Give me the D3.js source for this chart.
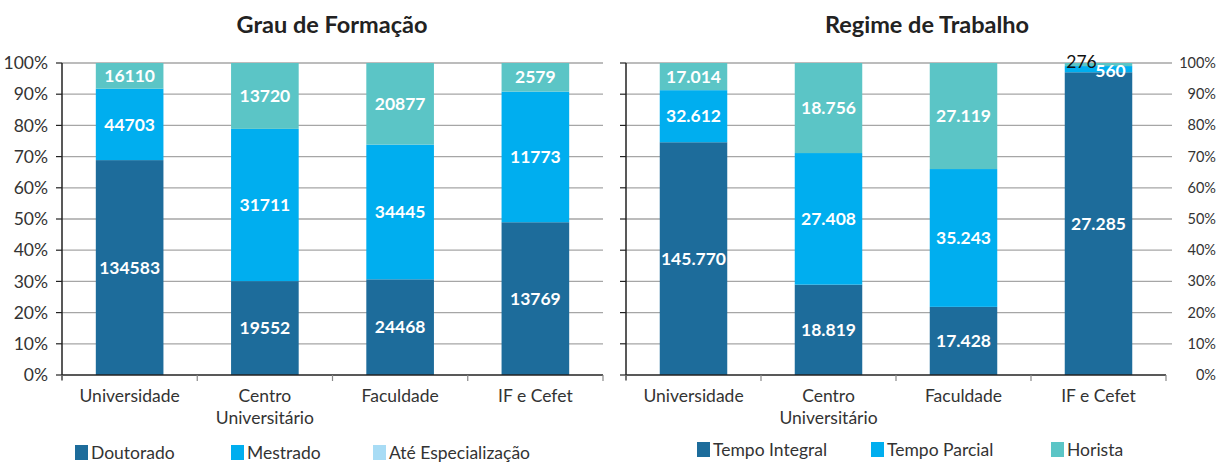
<!DOCTYPE html>
<html><head><meta charset="utf-8">
<script src="https://cdn.jsdelivr.net/npm/d3@7"></script>
<style>
body{margin:0;background:#fff;}
svg{font-family:Lato,"Noto Sans",sans-serif;}
</style></head>
<body><svg id="c" width="1218" height="462"></svg>
<script>
const categories = ["Universidade", "Centro\nUniversitário", "Faculdade", "IF e Cefet"];
const doutorado = [134583, 19552, 24468, 13769];
const mestrado = [44703, 31711, 34445, 11773];
const especializacao = [16110, 13720, 20877, 2579];
const tempoIntegral = [145770, 18819, 17428, 27285];
const tempoParcial = [32612, 27408, 35243, 560];
const horista = [17014, 18756, 27119, 276];
const yTicks = [0,10,20,30,40,50,60,70,80,90,100];

const C_DARK = "#1d6c9b", C_MID = "#00aeef", C_TEAL = "#5bc5c6", C_LIGHT = "#a8dcf5";
const svg = d3.select("#c");

function drawChart(o){
  const g = svg.append("g");
  const x = d3.scaleBand().domain(categories).range([o.x0, o.x1]).paddingInner(0.5).paddingOuter(0.25);
  const y = d3.scaleLinear().domain([0,100]).range([375, 63]);
  g.selectAll(".grid").data(yTicks.filter(t=>t>0)).join("line")
    .attr("x1", o.gx0).attr("x2", o.gx1)
    .attr("y1", d=>y(d)).attr("y2", d=>y(d))
    .attr("stroke", "#a6a6a6").attr("stroke-width", 1.3);
  const rows = categories.map((c,i)=>{
    const vals = o.series.map(s=>s.values[i]);
    const tot = d3.sum(vals);
    let acc = 0;
    return vals.map((v,j)=>{const s = {cat:c, v, j, i, y0:acc/tot*100, y1:(acc+v)/tot*100}; acc+=v; return s;});
  }).flat();
  g.selectAll(".bar").data(rows).join("rect")
    .attr("x", d=>x(d.cat)).attr("width", x.bandwidth())
    .attr("y", d=>y(d.y1)).attr("height", d=>y(d.y0)-y(d.y1))
    .attr("fill", d=>o.series[d.j].color);
  g.selectAll(".lbl").data(rows).join("text")
    .attr("x", d=>x(d.cat)+x.bandwidth()/2 + (o.lblOff[d.i+"-"+d.j]||[0,0])[0])
    .attr("y", d=>y((d.y0+d.y1)/2) + (o.lblOff[d.i+"-"+d.j]||[0,0])[1])
    .attr("dy", "0.35em").attr("text-anchor","middle")
    .attr("font-size", d=>o.lblStyle[d.i+"-"+d.j] ? 17.5 : 17.5).attr("font-weight", d=>(o.lblStyle[d.i+"-"+d.j]||"bold"))
    .attr("fill", d=>o.lblColor[d.i+"-"+d.j]||"#fff")
    .text(d=>o.fmt(d.v));
  g.append("line").attr("x1",o.x0).attr("x2",o.x0).attr("y1",y(100)).attr("y2",y(0)+5).attr("stroke","#222").attr("stroke-width",1.5);
  g.selectAll(".yt").data(yTicks).join("line")
    .attr("x1",o.x0-6).attr("x2",o.x0).attr("y1",d=>y(d)).attr("y2",d=>y(d)).attr("stroke","#222").attr("stroke-width",1.2);
  g.append("line").attr("x1",o.x0).attr("x2",o.x1).attr("y1",y(0)).attr("y2",y(0)).attr("stroke","#222").attr("stroke-width",1.5);
  const step = (o.x1-o.x0)/categories.length;
  g.selectAll(".xt").data(d3.range(categories.length+1)).join("line")
    .attr("x1",d=>o.x0+d*step).attr("x2",d=>o.x0+d*step).attr("y1",y(0)).attr("y2",y(0)+6).attr("stroke","#888").attr("stroke-width",1.2);
  const xl = g.selectAll(".xl").data(categories).join("text")
    .attr("text-anchor","middle").attr("font-size",17.5).attr("fill","#333")
    .attr("transform", d=>`translate(${x(d)+x.bandwidth()/2},402)`);
  xl.selectAll("tspan").data(d=>d.split("\n")).join("tspan")
    .attr("x",0).attr("dy",(d,i)=>i?"1.28em":0).text(d=>d);
  g.selectAll(".yl").data(yTicks).join("text")
    .attr("x", o.ylx).attr("y", d=>y(d)).attr("dy","0.35em")
    .attr("text-anchor","end").attr("font-size",o.yfs).attr("fill","#333")
    .text(d=>d+"%");
  g.append("text").attr("x",o.tx).attr("y",33).attr("text-anchor","middle")
    .attr("font-size",23.5).attr("font-weight","bold").attr("fill","#222").text(o.title);
  const lg = g.selectAll(".lg").data(o.legend).join("g").attr("transform",d=>`translate(${d.x},${o.ly})`);
  lg.append("rect").attr("x",0).attr("y",-14).attr("width",13).attr("height",15).attr("fill",d=>d.color);
  lg.append("text").attr("x",16).attr("y",0).attr("font-size",17.5).attr("fill","#333").text(d=>d.name);
}

drawChart({
  x0:62, x1:603, gx0:62, gx1:603, ylx:48, yfs:17.5, tx:332, ly:459,
  title:"Grau de Formação",
  series:[{values:doutorado,color:C_DARK},{values:mestrado,color:C_MID},{values:especializacao,color:C_TEAL}],
  fmt:d=>String(d), lblOff:{}, lblColor:{}, lblStyle:{},
  legend:[{name:"Doutorado",color:C_DARK,x:75},{name:"Mestrado",color:C_MID,x:231},{name:"Até Especialização",color:C_LIGHT,x:373}]
});
drawChart({
  x0:626, x1:1166, gx0:626, gx1:1172, ylx:1216, yfs:14.5, tx:927, ly:456,
  title:"Regime de Trabalho",
  series:[{values:tempoIntegral,color:C_DARK},{values:tempoParcial,color:C_MID},{values:horista,color:C_TEAL}],
  fmt:d=>d3.format(",")(d).replace(/,/g,"."),
  lblOff:{"3-1":[12,2],"3-2":[-17,-3]}, lblColor:{"3-2":"#111"}, lblStyle:{"3-2":"normal"},
  legend:[{name:"Tempo Integral",color:C_DARK,x:697},{name:"Tempo Parcial",color:C_MID,x:871},{name:"Horista",color:C_TEAL,x:1051}]
});
</script></body></html>
